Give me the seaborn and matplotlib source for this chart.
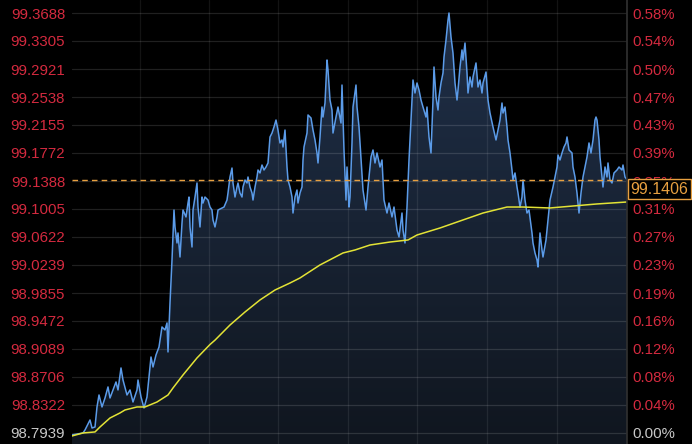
import numpy as np
import pandas as pd
import matplotlib
matplotlib.use("Agg")
import matplotlib.pyplot as plt
from matplotlib.colors import LinearSegmentedColormap
from matplotlib.patches import PathPatch
import seaborn as sns

# price series (minutes from the session start)
minutes = [0, 11, 13, 18, 20, 23, 25, 27, 30, 33,
           36, 38, 41, 44, 46, 49, 51, 55, 58, 61,
           65, 66, 69, 72, 75, 77, 79, 81, 84, 87,
           90, 93, 95, 96, 98,
           100, 102, 103, 105, 106, 108, 110, 111, 114, 116,
           117, 118, 120, 121, 123, 125, 126, 128, 130, 131,
           133, 136, 138, 140, 141, 143, 145, 146, 150, 152,
           155, 156, 158, 160, 161, 163, 165, 166, 168, 170,
           171, 173, 175, 176, 178, 180, 181, 183, 185, 186,
           188, 190, 192, 194, 196, 198, 200, 202, 204, 206,
           208, 210, 211, 213, 215, 216, 218, 220, 221, 223,
           225, 226, 228, 230, 231,
           232, 235, 236, 239, 241, 243, 245, 246, 248, 250,
           251, 253, 255, 256, 258, 260, 261, 264, 266, 269,
           270, 272, 274, 275, 277, 278, 280, 281, 284, 285,
           287, 290, 291, 294, 296, 299, 301, 303, 305, 308,
           310, 312, 315, 317, 320, 322, 325, 327, 330, 331,
           333, 335, 337, 340, 341, 343, 345, 347, 349, 351,
           354, 355, 357, 359, 361, 362, 364, 366, 367, 369,
           371, 372, 374, 376, 377, 379, 381, 383, 385, 386,
           388, 390, 391, 393, 395, 396, 398, 400, 401, 404,
           406, 408, 410, 411, 414, 416, 418, 421, 424, 426,
           428, 430, 431, 433, 435, 436, 438, 440, 441, 443,
           445, 446, 448, 450, 451, 453, 455, 457, 460, 461,
           463, 465, 466, 468, 470, 471, 474, 476, 478, 481,
           483, 485, 486, 488, 490, 492, 494, 495, 497, 500,
           501, 503, 505, 507, 509, 511, 513, 515, 517, 519,
           521, 523, 524, 525, 527, 528, 530, 531, 533, 535,
           536, 538, 540, 542, 545, 547, 550, 551, 553, 555]
price = [98.7912, 98.7939, 98.7980, 98.8117, 98.8007, 98.8021, 98.8295, 98.8459, 98.8295, 98.8418,
         98.8569, 98.8418, 98.8528, 98.8637, 98.8528, 98.8829, 98.8664, 98.8459, 98.8528, 98.8363,
         98.8528, 98.8664, 98.8432, 98.8281, 98.8432, 98.8706, 98.8979, 98.8842, 98.9007, 98.9116,
         98.9390, 98.9349, 98.9445, 98.9048, 98.9718,
         99.0307, 99.0991, 99.0759, 99.0540, 99.0677, 99.0348, 99.0813, 99.0991, 99.0896, 99.1087,
         99.1169, 99.0759, 99.0485, 99.0991, 99.1169, 99.1361, 99.1032, 99.0759, 99.1169, 99.1087,
         99.1169, 99.1128, 99.1032, 99.0991, 99.0855, 99.0759, 99.0896, 99.0991, 99.1019, 99.1032,
         99.1128, 99.1224, 99.1443, 99.1566, 99.1361, 99.1169, 99.1306, 99.1361, 99.1224, 99.1169,
         99.1306, 99.1402, 99.1361, 99.1443, 99.1306, 99.1224, 99.1128, 99.1306, 99.1443, 99.1539,
         99.1498, 99.1607, 99.1539, 99.1580, 99.1635, 99.1991, 99.2045, 99.2128, 99.2223, 99.2086,
         99.1909, 99.1950, 99.1854, 99.2086, 99.1580, 99.1402, 99.1306, 99.1169, 99.0950, 99.1169,
         99.1265, 99.1087, 99.1224, 99.1306, 99.1676,
         99.1854, 99.2045, 99.2292, 99.2251, 99.2086, 99.1950, 99.1772, 99.1635, 99.1991, 99.2401,
         99.2264, 99.2456, 99.3045, 99.2908, 99.2497, 99.2360, 99.2045, 99.2264, 99.2401, 99.2182,
         99.2702, 99.1813, 99.1128, 99.1580, 99.1032, 99.1169, 99.1909, 99.2401, 99.2702, 99.2401,
         99.2128, 99.1498, 99.1265, 99.0991, 99.1306, 99.1717, 99.1813, 99.1635, 99.1772, 99.1580,
         99.1676, 99.1128, 99.0950, 99.1087, 99.0896, 99.1032, 99.0718, 99.0622, 99.0950, 99.0718,
         99.0540, 99.1032, 99.1676, 99.2497, 99.2771, 99.2593, 99.2730, 99.2634, 99.2497, 99.2401,
         99.2264, 99.2401, 99.1991, 99.1772, 99.2497, 99.2949, 99.2538, 99.2360, 99.2538, 99.2730,
         99.2867, 99.3086, 99.3318, 99.3592, 99.3688, 99.3359, 99.3140, 99.2730, 99.2497, 99.2634,
         99.2949, 99.3182, 99.3045, 99.3277, 99.2867, 99.2593, 99.2812, 99.2675, 99.2812, 99.3004,
         99.2675, 99.2771, 99.2593, 99.2730, 99.2880, 99.2497, 99.2319, 99.2128, 99.1950, 99.2086,
         99.2223, 99.2456, 99.2319, 99.2401, 99.2128, 99.1950, 99.1772, 99.1539, 99.1402, 99.1498,
         99.1306, 99.1224, 99.1032, 99.1169, 99.1402, 99.1128, 99.0950, 99.0991, 99.0677, 99.0540,
         99.0403, 99.0307, 99.0211, 99.0677, 99.0444, 99.0348, 99.0581, 99.0855, 99.1128, 99.1306,
         99.1443, 99.1580, 99.1744, 99.1676, 99.1772, 99.1854, 99.1909, 99.1991, 99.1813, 99.1772,
         99.1580, 99.1443, 99.1224, 99.0950, 99.1224, 99.1443, 99.1580, 99.1717, 99.1909, 99.1772,
         99.1950, 99.2223, 99.2264, 99.2223, 99.1950, 99.1717, 99.1443, 99.1306, 99.1580, 99.1443,
         99.1635, 99.1402, 99.1361, 99.1498, 99.1539, 99.1580, 99.1539, 99.1607, 99.1443, 99.1406]

# moving average
ma_minutes = [0, 11, 23, 28, 38, 48, 53, 65, 73, 85,
              96, 101, 111, 125, 138, 143, 158, 173, 188, 203,
              218, 228, 248, 271, 283, 298, 318, 336, 345, 368,
              391, 411, 423, 435, 451, 478, 501, 525, 555]
ma_price = [98.7898, 98.7939, 98.7953, 98.8021, 98.8144, 98.8213, 98.8254, 98.8295, 98.8295, 98.8363,
            98.8459, 98.8555, 98.8733, 98.8966, 98.9150, 98.9210, 98.9417, 98.9595, 98.9760, 98.9896,
            98.9992, 99.0061, 99.0239, 99.0403, 99.0444, 99.0512, 99.0553, 99.0581, 99.0649, 99.0745,
            99.0855, 99.0950, 99.0991, 99.1032, 99.1032, 99.1019, 99.1046, 99.1074, 99.1101]

price_ticks = [98.7939, 98.8322, 98.8706, 98.9089, 98.9472, 98.9855, 99.0239, 99.0622,
               99.1005, 99.1388, 99.1772, 99.2155, 99.2538, 99.2921, 99.3305, 99.3688]
pct_labels = ["0.00%", "0.04%", "0.08%", "0.12%", "0.16%", "0.19%", "0.23%", "0.27%",
              "0.31%", "0.35%", "0.39%", "0.43%", "0.47%", "0.50%", "0.54%", "0.58%"]
vgrid_minutes = [68, 137, 206, 276, 345, 415, 485]
last_price = 99.1406

RED = "#d42a3f"
ORANGE = "#e8a040"

sns.set_theme(style="dark")
plt.rcParams["font.family"] = ["Liberation Sans", "DejaVu Sans"]

df = pd.DataFrame({"minute": minutes, "price": price})
ma = pd.DataFrame({"minute": ma_minutes, "price": ma_price})

fig = plt.figure(figsize=(6.92, 4.44), dpi=100, facecolor="black")
ax = fig.add_axes([72 / 692, 0, 555 / 692, 1])
ax.set_facecolor("black")

ylo, yhi = 98.7788, 99.3866
ax.set_xlim(0, 555)
ax.set_ylim(ylo, yhi)

# gradient fill under the price line
poly = ax.fill_between(df["minute"], df["price"], ylo, facecolor="none", edgecolor="none")
clip = PathPatch(poly.get_paths()[0], transform=ax.transData, facecolor="none", edgecolor="none")
ax.add_patch(clip)
cmap = LinearSegmentedColormap.from_list("fill", ["#10161f", "#203049"])
grad = np.linspace(0, 1, 256).reshape(-1, 1)
im = ax.imshow(grad, extent=[0, 555, ylo, yhi], aspect="auto", origin="lower", cmap=cmap, zorder=1)
im.set_clip_path(clip)

# grid
for t in price_ticks:
    ax.axhline(t, color="white", alpha=0.13, lw=0.9, zorder=2)
for m in vgrid_minutes:
    ax.axvline(m, color="white", alpha=0.08, lw=0.9, zorder=2)

sns.lineplot(data=df, x="minute", y="price", ax=ax, color="#5b9be8", lw=1.1,
             estimator=None, sort=False, zorder=4)
sns.lineplot(data=ma, x="minute", y="price", ax=ax, color="#e3e336", lw=1.1,
             estimator=None, sort=False, zorder=5)
ax.axhline(last_price, color=ORANGE, lw=1, dashes=(4, 3), zorder=6)

ax.set_xlim(0, 555)
ax.set_ylim(ylo, yhi)
ax.set_xticks([])
ax.set_xlabel("")
ax.set_ylabel("")
ax.set_yticks(price_ticks)
ax.set_yticklabels([f"{t:.4f}" for t in price_ticks])
ax.tick_params(axis="y", length=0, pad=5, labelsize=10.8, labelcolor=RED)
ax.get_yticklabels()[0].set_color("#c8c8c8")
for s in ax.spines.values():
    s.set_visible(False)

ax2 = ax.twinx()
ax2.set_ylim(ylo, yhi)
ax2.set_yticks(price_ticks)
ax2.set_yticklabels(pct_labels)
ax2.tick_params(axis="y", length=0, pad=4, labelsize=10.8, labelcolor=RED)
ax2.get_yticklabels()[0].set_color("#c8c8c8")
ax2.grid(False)
for s in ax2.spines.values():
    s.set_visible(False)
ax2.spines["right"].set_visible(True)
ax2.spines["right"].set_color("#303030")

# last price tag, drawn over the axis labels as in the terminal view
ax2.annotate(f"{last_price:.4f}", xy=(1, last_price), xycoords=("axes fraction", "data"),
             xytext=(2.5, -1.5), textcoords="offset points", ha="left", va="top",
             color=ORANGE, fontsize=11.5, annotation_clip=False, zorder=10,
             bbox=dict(boxstyle="square,pad=0.15", fc="black", ec=ORANGE, lw=1))

fig.savefig("out.png", dpi=100, facecolor="black")
